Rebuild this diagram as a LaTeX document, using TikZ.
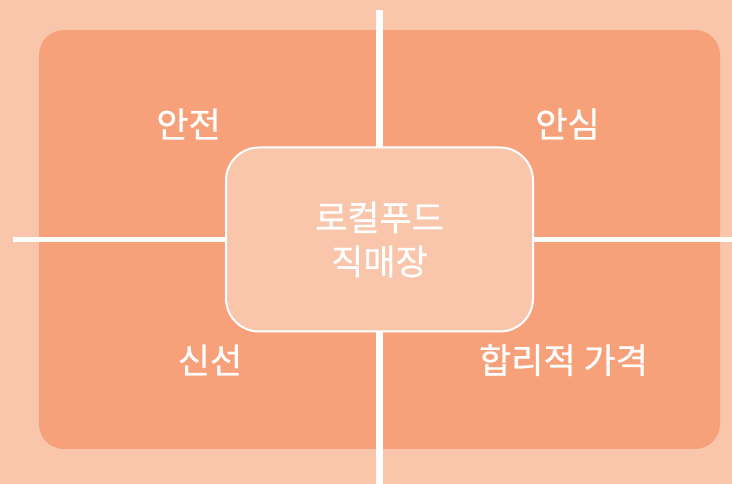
\documentclass[tikz,border=0pt]{standalone}
\usepackage{fontspec}
\setmainfont[FakeBold=0.6]{Noto Sans CJK KR}
\definecolor{bgc}{HTML}{F9C6AB}
\definecolor{quad}{HTML}{F7A17B}
\begin{document}
\begin{tikzpicture}[x=1pt,y=1pt,
  divider/.style={draw=white},
  label/.style={text=white, font=\fontsize{35}{44}\selectfont, inner sep=0pt},
  centerbox/.style={draw=white, line width=2pt, fill=bgc, rounded corners=33pt,
    minimum width=307pt, minimum height=184pt, inner sep=0pt, align=center,
    text=white, font=\fontsize{35}{44}\selectfont}]
\fill[bgc] (0,0) rectangle (732,484);
\useasboundingbox (0,0) rectangle (732,484);
\node[fill=quad, rounded corners=25pt, minimum width=681pt, minimum height=419pt, inner sep=0pt] (field) at (379.5,244.5) {};
\coordinate (vt) at (379.5,474);
\coordinate (vb) at (379.5,0);
\coordinate (hl) at (13,244.5);
\coordinate (hr) at (732,244.5);
\draw[divider, line width=6.5pt] (vt) -- (vb);
\draw[divider, line width=5pt] (hl) -- (hr);
\node[centerbox] (center) at (379.5,244.5) {로컬푸드\\직매장};
\node[label] (safe) at (188.5,360) {안전};
\node[label] (trust) at (567.5,360) {안심};
\node[label] (fresh) at (210,124) {신선};
\node[label] (price) at (563.5,124) {합리적 가격};
\end{tikzpicture}
\end{document}
